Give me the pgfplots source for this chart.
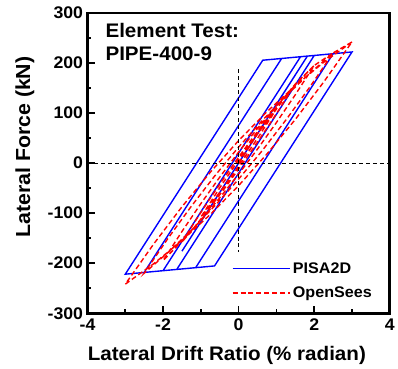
\documentclass[border=0pt]{standalone}
\usepackage{fontspec}
\setmainfont{Liberation Sans}[FakeStretch=1.05]
\usepackage{pgfplots}
\pgfplotsset{compat=1.18}
\begin{document}
\begin{tikzpicture}
\begin{axis}[
  name=ax,
  scale only axis, width=304bp, height=302bp,
  xmin=-4, xmax=4, ymin=-300, ymax=300,
  xtick={-4,-2,0,2,4}, xticklabels={-4,-2,0,2,4},
  minor xtick={-3,-1,1,3},
  ytick={-300,-200,-100,0,100,200,300},
  yticklabels={-300,-200,-100,0,100,200,300},
  minor ytick={-250,-150,-50,50,150,250},
  tick pos=left, tick align=inside,
  major tick length=7.5bp, minor tick length=4bp,
  every tick/.style={black, line width=1.6bp},
  axis line style={line width=2.6bp},
  ticklabel style={font=\fontsize{17}{19}\selectfont\bfseries},
  xticklabel style={yshift=-2.5bp},
  yticklabel style={xshift=-1bp},
  xlabel={Lateral Drift Ratio (\% radian)},
  ylabel={Lateral Force (kN)},
  xlabel style={font=\fontsize{19.8}{22}\selectfont\bfseries,
    at={(axis description cs:0.461,-0.159)}, anchor=base},
  ylabel style={font=\fontsize{20.5}{22}\selectfont\bfseries,
    at={(axis description cs:-0.207,0.553)}, anchor=center},
  legend style={at={(0.477,0.04)}, anchor=south west, draw=none, fill=none,
    font=\fontsize{15.5}{17}\selectfont\bfseries, row sep=8bp, inner sep=0pt},
  legend cell align=left,
  legend image code/.code={\draw[#1] (0bp,0bp) -- (58bp,0bp);},
]
% PISA2D (bilinear kinematic response)
\addplot[blue, line width=1.4bp] coordinates {
  (0,0) (1.5,176) (-1.5,-176) (1.819,213.7) (2,215)
  (-1.638,-212.5) (-2,-215) (1.638,212.5) (2.5,218.5)
  (-1.138,-209) (-2.5,-218.5) (1.138,209) (3,222)
  (-0.638,-205.5) (-3,-222) (0.638,205.5) (3,222)
};
\addlegendentry{PISA2D}
% OpenSees
\addplot[red, line width=1.4bp, dash pattern=on 5bp off 3bp] coordinates {
  (0,0) (0.5,58.5) (1,108)
  (0.5,49.5) (0,-6) (-0.5,-58.5) (-1,-108)
  (-0.5,-49.5) (0,6) (0.5,58.5) (1,108)
  (1.5,158)
  (1.125,113.25) (0.75,70) (0.375,28.25) (0,-12) (-0.375,-50.75) (-0.75,-88) (-1.125,-123.75) (-1.5,-158)
  (-1.125,-113.25) (-0.75,-70) (-0.375,-28.25) (0,12) (0.375,50.75) (0.75,88) (1.125,123.75) (1.5,158)
  (2,195)
  (1.5,136.6) (1,81) (0.5,28.1) (0,-22) (-0.5,-69.4) (-1,-114) (-1.5,-155.9) (-2,-195)
  (-1.5,-136.6) (-1,-81) (-0.5,-28.1) (0,22) (0.5,69.4) (1,114) (1.5,155.9) (2,195)
  (2.5,220)
  (1.875,151) (1.25,86) (0.625,25) (0,-32) (-0.625,-85) (-1.25,-134) (-1.875,-179) (-2.5,-220)
  (-1.875,-151) (-1.25,-86) (-0.625,-25) (0,32) (0.625,85) (1.25,134) (1.875,179) (2.5,220)
  (3,242)
  (2.25,161.8) (1.5,87.25) (0.75,18.3) (0,-45) (-0.75,-102.7) (-1.5,-154.75) (-2.25,-201.2) (-3,-242)
  (-2.25,-161.8) (-1.5,-87.25) (-0.75,-18.3) (0,45) (0.75,102.7) (1.5,154.75) (2.25,201.2) (3,242)
};
\addlegendentry{OpenSees}
\addplot[black, line width=1.1bp, dash pattern=on 4bp off 3bp, forget plot] coordinates {(-4,0) (4,0)};
\addplot[black, line width=1.1bp, dash pattern=on 4bp off 3bp, forget plot] coordinates {(0,187) (0,-177)};
\node[anchor=north west, align=left, inner sep=0pt,
  font=\fontsize{19.8}{23.3}\selectfont\bfseries] at (rel axis cs:0.059,0.965) {Element Test:\\PIPE-400-9};
\end{axis}
\path (ax.north west) ++(-88bp,13bp);
\path (ax.south east) ++(6bp,-52bp);
\end{tikzpicture}
\end{document}
